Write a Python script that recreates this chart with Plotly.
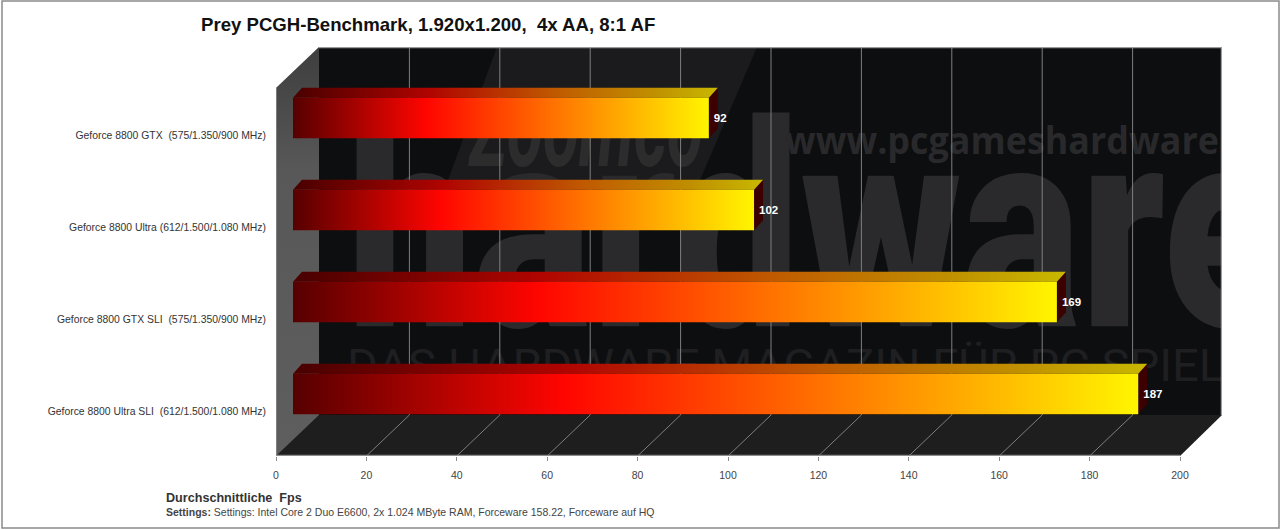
import plotly.graph_objects as go

categories = [
    "Geforce 8800 GTX  (575/1.350/900 MHz)",
    "Geforce 8800 Ultra (612/1.500/1.080 MHz)",
    "Geforce 8800 GTX SLI  (575/1.350/900 MHz)",
    "Geforce 8800 Ultra SLI  (612/1.500/1.080 MHz)",
]
fps = [92, 102, 169, 187]
x_ticks = [0, 20, 40, 60, 80, 100, 120, 140, 160, 180, 200]

W, H = 1280, 530
L, R, T, B = 276, 1222, 47, 456          # plot box in pixels
PX_X = (1180 - 276) / 200                # pixels per Fps
PX_Y = 92                                # pixels per category
Y_BOTTOM = 3.5
Y_TOP = Y_BOTTOM - (B - T) / PX_Y
X_MAX = (R - L) / PX_X

WALL_DX = 43 / PX_X
WALL_DY = 41 / PX_Y
BAR_DX = 17 / PX_X
BAR_DY = 16 / PX_Y
BAR_H = 40.5 / PX_Y
SIDE_DX = 9 / PX_X
SIDE_DY = 10 / PX_Y

FRONT = [[0, "#560000"], [0.32, "#ff0500"], [0.62, "#ff7000"], [0.85, "#ffc000"], [1, "#fff500"]]
TOP = [[0, "#480000"], [0.32, "#b00400"], [0.62, "#c05a00"], [0.85, "#c09000"], [1, "#c8b800"]]
WM = "#2a2a2c"


def px(x_px, y_px):
    return (x_px - L) / PX_X, Y_BOTTOM - (B - y_px) / PX_Y


def poly(xs, ys, color=None, grad=None):
    tr = go.Scatter(x=xs + xs[:1], y=ys + ys[:1], mode="lines", fill="toself",
                    line=dict(width=0), hoverinfo="skip", showlegend=False)
    if grad:
        tr.fillgradient = grad
    else:
        tr.fillcolor = color
    return tr


def wm_text(x_px, y_px, text, size, family, color=WM, style="normal", weight="normal"):
    x, y = px(x_px, y_px)
    return go.Scatter(x=[x], y=[y], mode="text", text=[text], textposition="middle right",
                      textfont=dict(size=size, family=family, color=color, style=style, weight=weight),
                      hoverinfo="skip", showlegend=False)


fig = go.Figure()

# watermark on the back wall
bx = [px(497, 47), px(757, 47), px(700, 180), px(448, 180)]
fig.add_trace(poly([p[0] for p in bx], [p[1] for p in bx], "#1b1b1d"))
fig.add_trace(wm_text(347, 255, "hardware", 285, "Roboto", weight=900))
fig.add_trace(wm_text(470, 138, "Zoomco", 110, "Roboto", "#2c2c2c", "italic", "bold"))
fig.add_trace(wm_text(785, 145, "www.pcgameshardware", 38, "Open Sans", "#29292b", weight="bold"))
fig.add_trace(wm_text(347, 370, "DAS HARDWARE MAGAZIN FÜR PC SPIELE", 45, "Roboto", "#1f1f21"))

# floor and wall
fig.add_trace(poly([0, WALL_DX, X_MAX, 200], [Y_BOTTOM, Y_BOTTOM - WALL_DY, Y_BOTTOM - WALL_DY, Y_BOTTOM], "#1e1e1e"))
fig.add_trace(poly([0, WALL_DX, WALL_DX, 0],
                   [Y_BOTTOM, Y_BOTTOM - WALL_DY, Y_TOP, Y_TOP + WALL_DY],
                   grad=dict(type="vertical", start=Y_TOP, stop=Y_BOTTOM,
                             colorscale=[[0, "#3e3e3e"], [0.3, "#585858"], [1, "#5e5e5e"]])))
# the corners outside the 3D box stay white
fig.add_trace(poly([0, WALL_DX, 0], [Y_TOP, Y_TOP, Y_TOP + WALL_DY], "white"))
fig.add_trace(poly([200, X_MAX, X_MAX], [Y_BOTTOM, Y_BOTTOM - WALL_DY, Y_BOTTOM], "white"))

# gridlines
for v in x_ticks[1:-1]:
    fig.add_trace(go.Scatter(x=[v, v + WALL_DX, v + WALL_DX],
                             y=[Y_BOTTOM, Y_BOTTOM - WALL_DY, Y_TOP], mode="lines",
                             line=dict(color="#7f7f7f", width=1), hoverinfo="skip", showlegend=False))

# frame lines on the plot edge
fig.add_trace(go.Scatter(x=[WALL_DX, X_MAX, X_MAX], y=[Y_TOP, Y_TOP, Y_BOTTOM - WALL_DY], mode="lines",
                         line=dict(color="#9a9a9a", width=2.5), hoverinfo="skip", showlegend=False))
fig.add_trace(go.Scatter(x=[0, 200], y=[Y_BOTTOM, Y_BOTTOM], mode="lines",
                         line=dict(color="#8c8c8c", width=2.5), hoverinfo="skip", showlegend=False))
fig.add_trace(go.Scatter(x=[0, 0], y=[Y_BOTTOM, Y_TOP + WALL_DY], mode="lines",
                         line=dict(color="#8c8c8c", width=1.5), hoverinfo="skip", showlegend=False))

# bars
for i, v in enumerate(fps):
    x0, x1 = BAR_DX, BAR_DX + v
    yc = i - BAR_DY
    y_t, y_b = yc - BAR_H / 2, yc + BAR_H / 2
    fig.add_trace(poly([x1, x1 + SIDE_DX, x1 + SIDE_DX, x1],
                       [y_t, y_t - SIDE_DY, y_b - SIDE_DY, y_b], "#3c0000"))
    fig.add_trace(poly([x0, x0 + SIDE_DX, x1 + SIDE_DX, x1],
                       [y_t, y_t - SIDE_DY, y_t - SIDE_DY, y_t],
                       grad=dict(type="horizontal", start=x0, stop=x1 + SIDE_DX, colorscale=TOP)))
    fig.add_trace(poly([x0, x1, x1, x0], [y_t, y_t, y_b, y_b],
                       grad=dict(type="horizontal", start=x0, stop=x1, colorscale=FRONT)))
    fig.add_trace(go.Scatter(x=[x1 + 5 / PX_X], y=[yc + 1 / PX_Y], mode="text", text=[str(v)],
                             textposition="middle right",
                             textfont=dict(size=11.5, family="Liberation Sans", color="white", weight="bold"),
                             hoverinfo="skip", showlegend=False))

fig.update_layout(
    width=W, height=H, showlegend=False,
    paper_bgcolor="white", plot_bgcolor="#0d0e10",
    margin=dict(l=L, r=W - R, t=T, b=H - B, pad=0),
    font=dict(family="Liberation Sans", color="#333333"),
    xaxis=dict(range=[0, X_MAX], tickmode="array", tickvals=x_ticks, ticks="outside", ticklen=4,
               tickcolor="#8c8c8c", tickwidth=1, showgrid=False, zeroline=False, showline=False,
               tickfont=dict(size=10.5, color="#444444"), ticklabelstandoff=5, fixedrange=True),
    yaxis=dict(range=[Y_BOTTOM, Y_TOP], tickmode="array", tickvals=[0, 1, 2, 3], ticktext=categories,
               ticks="", showgrid=False, zeroline=False, showline=False,
               tickfont=dict(size=10.4, color="#333333"), ticklabelstandoff=9, ticklabelshift=-1,
               fixedrange=True),
    shapes=[dict(type="rect", xref="paper", yref="paper", layer="above",
                 x0=(2 - L) / (R - L), x1=(1279 - L) / (R - L),
                 y0=(B - 528) / (B - T), y1=(B - 1) / (B - T),
                 line=dict(color="#8a8a8a", width=1.5), fillcolor="rgba(0,0,0,0)")],
    annotations=[
        dict(xref="paper", yref="paper", x=(199 - L) / (R - L), y=(B - 24) / (B - T), xanchor="left",
             yanchor="middle", showarrow=False, align="left",
             text="<b>Prey PCGH-Benchmark, 1.920x1.200,\u00a0 4x AA, 8:1 AF</b>",
             font=dict(size=18.6, color="#111111", family="Liberation Sans")),
        dict(xref="paper", yref="paper", x=(164 - L) / (R - L), y=(B - 498) / (B - T), xanchor="left",
             yanchor="middle", showarrow=False, align="left",
             text="<b>Durchschnittliche\u00a0 Fps</b>",
             font=dict(size=12.6, color="#333333", family="Liberation Sans")),
        dict(xref="paper", yref="paper", x=(164 - L) / (R - L), y=(B - 512) / (B - T), xanchor="left",
             yanchor="middle", showarrow=False, align="left",
             text="<b>Settings:</b> Settings: Intel Core 2 Duo E6600, 2x 1.024 MByte RAM, Forceware 158.22, Forceware auf HQ",
             font=dict(size=10.5, color="#444444", family="Liberation Sans")),
    ],
)

# squeeze the watermark lettering horizontally to the widths of the original artwork
POST = """
document.body.style.margin='0';document.documentElement.style.overflow='hidden';
var fit={'hardware':[347,938],'Zoomco':[470,235],'www.pcgameshardware':[785,434],
         'DAS HARDWARE MAGAZIN FÜR PC SPIELE':[347,904]};
document.querySelectorAll('.textpoint text').forEach(function(t){
  var f=fit[t.textContent]; if(!f) return;
  var b=t.getBBox(), s=f[1]/b.width, x=b.x;
  var old=t.getAttribute('transform')||'';
  t.setAttribute('transform',old+' translate('+x+',0) scale('+s+',1) translate('+(-x)+',0)');
});
"""
fig.write_html("out.html", config=dict(displayModeBar=False), post_script=POST)
